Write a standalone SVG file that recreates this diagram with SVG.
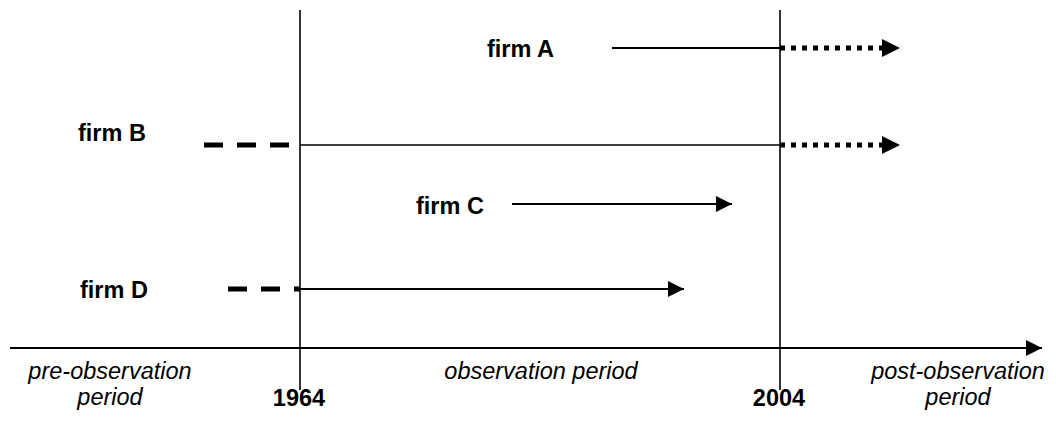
<svg xmlns="http://www.w3.org/2000/svg" width="1056" height="434" viewBox="0 0 1056 434">
<style>
text{font-family:"Liberation Sans",Arial,sans-serif;fill:#000}
.b{font-weight:bold;font-size:23.5px}
.i{font-style:italic;font-size:23.5px}
.thin{stroke:#000;stroke-width:1.6;fill:none}
.ln{stroke:#000;stroke-width:2;fill:none}
.dash{stroke:#000;stroke-width:5;fill:none;stroke-dasharray:19 14}
.dot{stroke:#000;stroke-width:5;fill:none;stroke-dasharray:5 6}
</style>
<defs>
<marker id="ah" viewBox="0 0 10 10" refX="10" refY="5" markerWidth="8" markerHeight="8" markerUnits="strokeWidth" orient="auto"><path d="M0,0 L10,5 L0,10 z" fill="#000"/></marker>
<marker id="ahd" viewBox="0 0 10 10" refX="10" refY="5" markerWidth="3.6" markerHeight="3.6" markerUnits="strokeWidth" orient="auto"><path d="M0,0 L10,5 L0,10 z" fill="#000"/></marker>
</defs>
<rect width="1056" height="434" fill="#fff"/>
<g id="connectors">
<line class="thin" x1="300" y1="10" x2="300" y2="390"/>
<line class="thin" x1="780" y1="10" x2="780" y2="390"/>
<line class="ln" x1="10" y1="348" x2="1042" y2="348" marker-end="url(#ah)"/>
<line class="ln" x1="612" y1="48" x2="780" y2="48"/>
<line class="dot" x1="780" y1="48" x2="900" y2="48" marker-end="url(#ahd)"/>
<line class="dash" x1="204" y1="145" x2="300" y2="145"/>
<line class="thin" x1="300" y1="145" x2="780" y2="145"/>
<line class="dot" x1="780" y1="145" x2="900" y2="145" marker-end="url(#ahd)"/>
<line class="ln" x1="512" y1="204" x2="732" y2="204" marker-end="url(#ah)"/>
<line class="dash" x1="228" y1="289" x2="300" y2="289"/>
<line class="ln" x1="300" y1="289" x2="684" y2="289" marker-end="url(#ah)"/>
</g>
<g id="firmA"><text class="b" x="487" y="57">firm A</text></g>
<g id="firmB"><text class="b" x="78" y="141">firm B</text></g>
<g id="firmC"><text class="b" x="416" y="214">firm C</text></g>
<g id="firmD"><text class="b" x="80" y="298">firm D</text></g>
<g id="labels">
<text class="i" x="110" y="379" text-anchor="middle">pre-observation</text>
<text class="i" x="110" y="405" text-anchor="middle">period</text>
<text class="b" x="299" y="406" text-anchor="middle">1964</text>
<text class="i" x="541" y="379" text-anchor="middle">observation period</text>
<text class="b" x="779" y="406" text-anchor="middle">2004</text>
<text class="i" x="958" y="379" text-anchor="middle">post-observation</text>
<text class="i" x="958" y="405" text-anchor="middle">period</text>
</g>
</svg>
